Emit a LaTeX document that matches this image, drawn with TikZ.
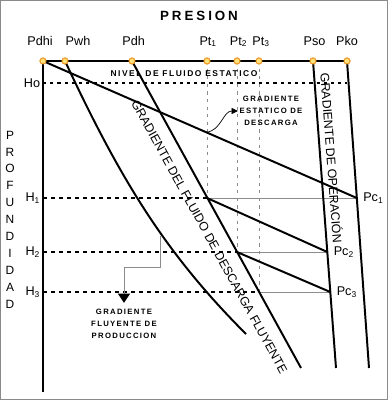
\documentclass[tikz,border=0pt]{standalone}
\usepackage{fontspec}
\setmainfont{Liberation Sans}
\newfontfamily\notefont[LetterSpace=17]{Liberation Sans}
\newfontfamily\levelfont[LetterSpace=18]{Liberation Sans}
\newfontfamily\titlefont[LetterSpace=22]{Liberation Sans}
\usepackage{tikz}
\usetikzlibrary{arrows.meta, positioning, calc}
\definecolor{dotorange}{HTML}{EE9A2A}
\definecolor{dotyellow}{HTML}{FFE27A}
\definecolor{framegray}{HTML}{8A8A8A}
\definecolor{guidegray}{HTML}{8C8C8C}

\begin{document}
\begin{tikzpicture}[
  x=0.25mm, y=-0.25mm,
  axisline/.style={line width=2.1pt},
  gradline/.style={line width=1.4pt},
  depthline/.style={line width=1.2pt, dash pattern=on 1mm off 1mm},
  levelline/.style={line width=1.3pt, dash pattern=on 0.8mm off 1mm},
  guideline/.style={draw=guidegray, line width=0.6pt},
  ptline/.style={draw=guidegray, line width=0.45pt, dash pattern=on 0.8mm off 1.1mm},
  pdot/.style={circle, draw=dotorange, fill=dotyellow, line width=0.7pt, inner sep=0pt, minimum size=1.5mm},
  axislabel/.style={font=\fontsize{9}{10}\selectfont, inner sep=1pt},
  gradtext/.style={font=\fontsize{8.8}{10}\selectfont, inner sep=0pt},
  notetext/.style={font=\fontsize{5.5}{8.5}\selectfont\notefont\bfseries, align=center, inner sep=1pt},
  depthletter/.style={font=\fontsize{8.5}{10}\selectfont, inner sep=0pt}
]
  \useasboundingbox (0,0) rectangle (388,400);
  \draw[framegray, line width=0.6pt] (0.5,0.5) rectangle (387.5,399.5);

  % Pressure points along the top axis
  \node[pdot] (pdhi) at (43,61) {};
  \node[pdot] (pwh) at (65,61) {};
  \node[pdot] (pdh) at (132,61) {};
  \node[pdot] (pt1) at (207,61) {};
  \node[pdot] (pt2) at (237,61) {};
  \node[pdot] (pt3) at (259,61) {};
  \node[pdot] (pso) at (313,61) {};
  \node[pdot] (pko) at (347,61) {};

  % Depth levels on the left axis
  \coordinate (ho) at (43,83);
  \coordinate (h1) at (43,198);
  \coordinate (h2) at (43,252);
  \coordinate (h3) at (43,292);
  \coordinate (axis-end) at (43,392);

  % Casing pressures and line ends
  \coordinate (pc1) at (356.8,198);
  \coordinate (pc2) at (327.3,252);
  \coordinate (pc3) at (330.3,292);
  \coordinate (so-end) at (336,368);
  \coordinate (ko-end) at (369,368);
  \coordinate (dh-end) at (301,368);
  \coordinate (wh-end) at (246,334);

  % Guides from Pt to the depth levels
  \draw[ptline] (pt1.center) -- (pt1 |- h1);
  \draw[ptline] (pt2.center) -- (pt2 |- h2);
  \draw[ptline] (pt3.center) -- (pt3 |- h3);
  \draw[guideline] (pt1 |- h1) -- (pc1);
  \draw[guideline] (pt2 |- h2) -- (pc2);
  \draw[guideline] (pt3 |- h3) -- (pc3);

  % Depth lines
  \draw[levelline] (ho) -- (pko |- ho);
  \draw[depthline] (h1) -- (pt1 |- h1);
  \draw[depthline] (h2) -- (pt2 |- h2);
  \draw[depthline] (h3) -- (pt3 |- h3);

  % Axes
  \draw[axisline] (pdhi.center) -- (pko.center);
  \draw[axisline] (pdhi.center) -- (axis-end);

  % Gradients
  \draw[gradline] (pdhi.center) -- (pc1);
  \draw[gradline] (pwh.center) .. controls (121,181) and (166,254) .. (wh-end);
  \draw[gradline] (pdh.center) -- (dh-end)
    node[gradtext, sloped, pos=0.546, below=2.9mm] (desc-label) {GRADIENTE DEL FLUIDO DE DESCARGA FLUYENTE};
  \draw[gradline] (pso.center) -- (so-end);
  \draw[gradline] (pko.center) -- (ko-end);
  \draw[gradline] (pt1 |- h1) -- (pc2);
  \draw[gradline] (pt2 |- h2) -- (pc3);

  % Redraw the dots on top
  \foreach \p in {pdhi,pwh,pdh,pt1,pt2,pt3,pso,pko}
    \node[pdot] at (\p) {};

  % Axis titles
  \node[font=\fontsize{9.5}{10}\selectfont\titlefont\bfseries] (presion) at (199,16) {PRESION};
  \foreach \ch [count=\i] in {P,R,O,F,U,N,D,I,D,A,D}
    \node[depthletter] (prof-\i) at (10,118.1+16.9*\i) {\ch};

  % Pressure labels
  \node[axislabel, anchor=base] (pdhi-label) at ([xshift=-0.75mm, yshift=4mm]pdhi) {Pdhi};
  \node[axislabel, anchor=base] (pwh-label) at ([xshift=3.25mm, yshift=4mm]pwh) {Pwh};
  \node[axislabel, anchor=base] (pdh-label) at ([xshift=0.4mm, yshift=4mm]pdh) {Pdh};
  \node[axislabel, anchor=base] (pt1-label) at ([xshift=0.3mm, yshift=4mm]pt1) {Pt\textsubscript{1}};
  \node[axislabel, anchor=base] (pt2-label) at ([xshift=0.4mm, yshift=4mm]pt2) {Pt\textsubscript{2}};
  \node[axislabel, anchor=base] (pt3-label) at ([xshift=0.5mm, yshift=4mm]pt3) {Pt\textsubscript{3}};
  \node[axislabel, anchor=base] (pso-label) at ([xshift=0.4mm, yshift=4mm]pso) {Pso};
  \node[axislabel, anchor=base] (pko-label) at ([yshift=4mm]pko) {Pko};

  % Depth labels
  \node[axislabel, left=0.3mm of ho] (ho-label) {Ho};
  \node[axislabel, left=0.3mm of h1] (h1-label) {H\textsubscript{1}};
  \node[axislabel, left=0.3mm of h2] (h2-label) {H\textsubscript{2}};
  \node[axislabel, left=0.3mm of h3] (h3-label) {H\textsubscript{3}};

  % Casing pressure labels
  \node[axislabel, right=1.2mm of pc1] (pc1-label) {Pc\textsubscript{1}};
  \node[axislabel, right=1.2mm of pc2] (pc2-label) {Pc\textsubscript{2}};
  \node[axislabel, right=1.2mm of pc3] (pc3-label) {Pc\textsubscript{3}};

  % Gradient names along the lines
  \node[gradtext, rotate=-85.7] (oper-label) at (332,158) {GRADIENTE DE OPERACIÓN};
  \node[font=\fontsize{6}{8}\selectfont\levelfont\bfseries, inner sep=0pt] (level-label) at (184,74) {NIVEL DE FLUIDO ESTATICO};

  % Notes with their arrows
  \node[notetext] (static-note) at (271,111) {GRADIENTE\\ESTATICO DE\\DESCARGA};
  \node[notetext] (prod-note) at (124,324) {GRADIENTE\\FLUYENTE DE\\PRODUCCION};
  \coordinate (static-start) at ($(pdhi)!0.52!(pc1)$);
  \coordinate (prod-start) at (160,236);
  \draw[line width=0.5pt, -{Triangle[length=1.6mm, width=1.5mm]}] (static-start) to[out=5, in=180] (static-note.west);
  \draw[guideline, -{Triangle[length=2.3mm, width=3mm, black]}] (prod-start) -- ++(0,31) -| ([yshift=1.2mm]prod-note.north);
\end{tikzpicture}
\end{document}
